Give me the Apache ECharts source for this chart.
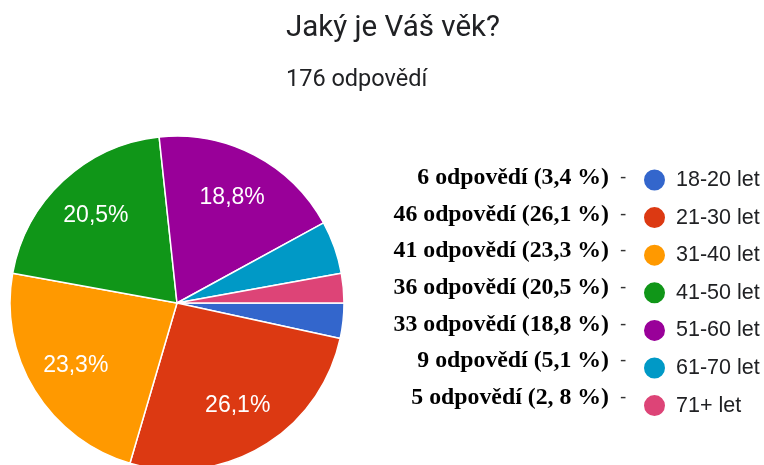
<!DOCTYPE html>
<html>
<head>
<meta charset="utf-8">
<script src="https://cdn.jsdelivr.net/npm/echarts@6/dist/echarts.min.js"></script>
<style>
  html, body { margin: 0; padding: 0; background: #fff; }
  #chart { width: 764px; height: 465px; }
</style>
</head>
<body>
<div id="chart"></div>
<script>
const ageGroups = ['18-20 let', '21-30 let', '31-40 let', '41-50 let', '51-60 let', '61-70 let', '71+ let']
const answers = [6, 46, 41, 36, 33, 9, 5]
// podíly tak, jak jsou napsané v legendě (včetně překlepu u posledního)
const shareText = ['3,4', '26,1', '23,3', '20,5', '18,8', '5,1', '2, 8']
const colors = ['#3366cc', '#dc3912', '#ff9900', '#109618', '#990099', '#0099c6', '#dd4477']

const total = answers.reduce((a, b) => a + b, 0)

const chart = echarts.init(document.getElementById('chart'))

const pieData = ageGroups.map((name, i) => ({ name: name, value: answers[i] }))

const option = {
  color: colors,
  animation: false,
  title: [
    {
      text: 'Jaký je Váš věk?',
      left: 281,
      top: 9,
      textStyle: { fontFamily: 'Roboto', fontWeight: 'normal', fontSize: 29.5, color: '#202124' }
    },
    {
      text: total + ' odpovědí',
      left: 281,
      top: 63,
      textStyle: { fontFamily: 'Roboto', fontWeight: 'normal', fontSize: 23.5, color: '#202124' }
    }
  ],
  legend: [
    {
      orient: 'vertical',
      left: 642,
      top: 167.5,
      padding: 0,
      icon: 'circle',
      itemWidth: 23,
      itemHeight: 23,
      itemGap: 12.6,
      selectedMode: false,
      data: ageGroups,
      textStyle: { fontFamily: 'Liberation Sans', fontSize: 21.5, lineHeight: 23, color: '#202124', padding: [0, 0, 0, 5] }
    },
    {
      orient: 'vertical',
      left: 362,
      top: 166,
      padding: 0,
      icon: 'circle',
      itemWidth: 0,
      itemHeight: 23,
      itemGap: 12.6,
      selectedMode: false,
      data: ageGroups,
      formatter: name => {
        const i = ageGroups.indexOf(name)
        return '{b|' + answers[i] + ' odpovědí (' + shareText[i] + ' %)}{d|-}'
      },
      textStyle: {
        lineHeight: 23,
        rich: {
          b: { width: 241, align: 'right', lineHeight: 23, fontFamily: 'Liberation Serif', fontWeight: 'bold', fontSize: 23.8, color: '#000' },
          d: { align: 'right', lineHeight: 23, fontFamily: 'Liberation Sans', fontSize: 19, color: '#333', padding: [0, 0, 0, 11] }
        }
      }
    }
  ],
  series: [
    {
      type: 'pie',
      center: [177, 303],
      radius: 167,
      startAngle: 0,
      clockwise: true,
      label: { show: false },
      labelLine: { show: false },
      itemStyle: { borderColor: '#fff', borderWidth: 1.5 },
      data: pieData
    },
    {
      // jen popisky uvnitř výsečí, posunuté blíž k okraji
      type: 'pie',
      silent: true,
      center: [177, 303],
      radius: [65, 167],
      startAngle: 0,
      clockwise: true,
      itemStyle: { color: 'rgba(0,0,0,0)' },
      labelLine: { show: false },
      label: {
        show: true,
        position: 'inside',
        fontFamily: 'Liberation Sans',
        fontSize: 23,
        color: '#fff',
        formatter: p => {
          const pct = Math.round(p.value / total * 1000) / 10
          return pct < 10 ? '' : pct.toFixed(1).replace('.', ',') + '%'
        }
      },
      data: pieData
    }
  ]
}

chart.setOption(option)
</script>
</body>
</html>
